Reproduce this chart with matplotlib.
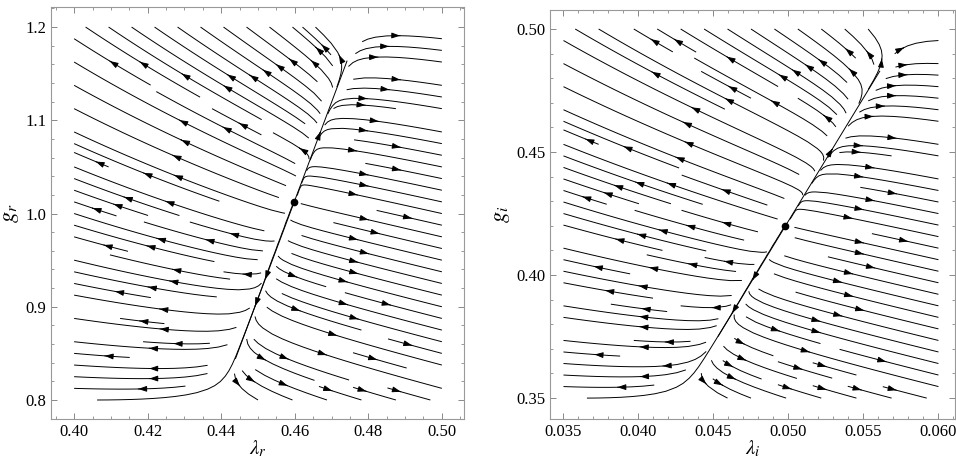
import numpy as np
import matplotlib.pyplot as plt
from matplotlib.ticker import MultipleLocator

plt.rcParams['font.family'] = ['Liberation Serif', 'DejaVu Serif']
plt.rcParams['mathtext.fontset'] = 'stix'

# panel ranges (data region of the stream plots)
lam_r_range = [0.40, 0.50]
g_r_range = [0.80, 1.20]
lam_i_range = [0.035, 0.060]
g_i_range = [0.35, 0.50]

# fixed points (the black dots)
fixed_r = (0.4598, 1.012)
fixed_i = (0.0498, 0.420)

# shape of the flow, in units of the panel span:
# tilt = lean of the slow curve, drift = slow rate along it,
# lean of the fast flow on the left (at centre, change with height) and on the right
tilt_r, drift_r = 0.38, 0.05
left_r, left_dv_r, right_r = -0.30, -0.42, -0.20
tilt_i, drift_i = 0.60, 0.05
left_i, left_dv_i, right_i = -0.24, -0.32, -0.19

# how far the slow curve is drawn above / below the fixed point (fraction of y span)
curve_top_r, curve_bot_r = 0.38, -0.42
curve_top_i, curve_bot_i = 0.42, -0.30


def flow(x, y, fix, xspan, yspan, tilt, drift, left, left_dv, right):
    u = (x - fix[0]) / xspan
    v = (y - fix[1]) / yspan
    p = u - tilt * v
    w = 0.5 * (1 + np.tanh(p / 0.06))
    s = (1 - w) * (left + left_dv * v) + w * right
    dp = p
    dq = drift * v + s * p
    du = dp + tilt * dq
    return du * xspan, dq * yspan


def panel(ax, xr, yr, fix, pars, ends, xlim, ylim, xmaj, xmin, ymaj, ymin,
          xlab, ylab, xfmt, yfmt):
    xspan, yspan = xr[1] - xr[0], yr[1] - yr[0]
    xs = np.linspace(xr[0], xr[1], 300)
    ys = np.linspace(yr[0], yr[1], 300)
    X, Y = np.meshgrid(xs, ys)
    U, V = flow(X, Y, fix, xspan, yspan, *pars)
    kw = dict(color='black', linewidth=0.7,
              arrowstyle='-|>,head_length=0.5,head_width=0.17', arrowsize=1.0)
    try:
        ax.streamplot(X, Y, U, V, density=1.1, num_arrows=6, **kw)
    except TypeError:
        ax.streamplot(X, Y, U, V, density=1.1, **kw)

    # the slow curve through the fixed point, traced back from its two ends
    tilt = pars[0]
    for d in ends:
        seed = np.array([[fix[0] + tilt * xspan * d, fix[1] + yspan * d]])
        try:
            ax.streamplot(X, Y, U, V, start_points=seed, density=4,
                          integration_direction='backward', num_arrows=3, **kw)
        except TypeError:
            ax.streamplot(X, Y, U, V, start_points=seed, density=4,
                          integration_direction='backward', **kw)
    ax.plot(fix[0], fix[1], 'o', color='black', markersize=4.5, zorder=5)

    ax.set_xlim(xlim)
    ax.set_ylim(ylim)
    ax.xaxis.set_major_locator(MultipleLocator(xmaj))
    ax.xaxis.set_minor_locator(MultipleLocator(xmin))
    ax.yaxis.set_major_locator(MultipleLocator(ymaj))
    ax.yaxis.set_minor_locator(MultipleLocator(ymin))
    ax.xaxis.set_major_formatter(xfmt)
    ax.yaxis.set_major_formatter(yfmt)
    ax.tick_params(which='both', direction='in', top=True, right=True,
                   color='#888888', labelsize=12)
    ax.tick_params(which='major', length=4.5, width=0.7)
    ax.tick_params(which='minor', length=2.5, width=0.6)
    for s in ax.spines.values():
        s.set_color('#999999')
        s.set_linewidth(0.8)
    ax.set_xlabel(xlab, fontsize=15, labelpad=-1)
    ax.set_ylabel(ylab, fontsize=16, labelpad=3)


fig = plt.figure(figsize=(9.56, 4.59), dpi=100)
ax1 = fig.add_axes([0.0533, 0.0871, 0.432, 0.8976])
ax2 = fig.add_axes([0.5753, 0.0871, 0.4236, 0.891])

panel(ax1, lam_r_range, g_r_range, fixed_r,
      (tilt_r, drift_r, left_r, left_dv_r, right_r), (curve_top_r, curve_bot_r),
      (0.3937, 0.506), (0.7796, 1.2215), 0.02, 0.005, 0.1, 0.02,
      r'$\lambda_r$', r'$g_r$', '{x:.2f}', '{x:.1f}')
panel(ax2, lam_i_range, g_i_range, fixed_i,
      (tilt_i, drift_i, left_i, left_dv_i, right_i), (curve_top_i, curve_bot_i),
      (0.0341, 0.0611), (0.3415, 0.5077), 0.005, 0.001, 0.05, 0.01,
      r'$\lambda_i$', r'$g_i$', '{x:.3f}', '{x:.2f}')

fig.savefig('out.png', dpi=100)
